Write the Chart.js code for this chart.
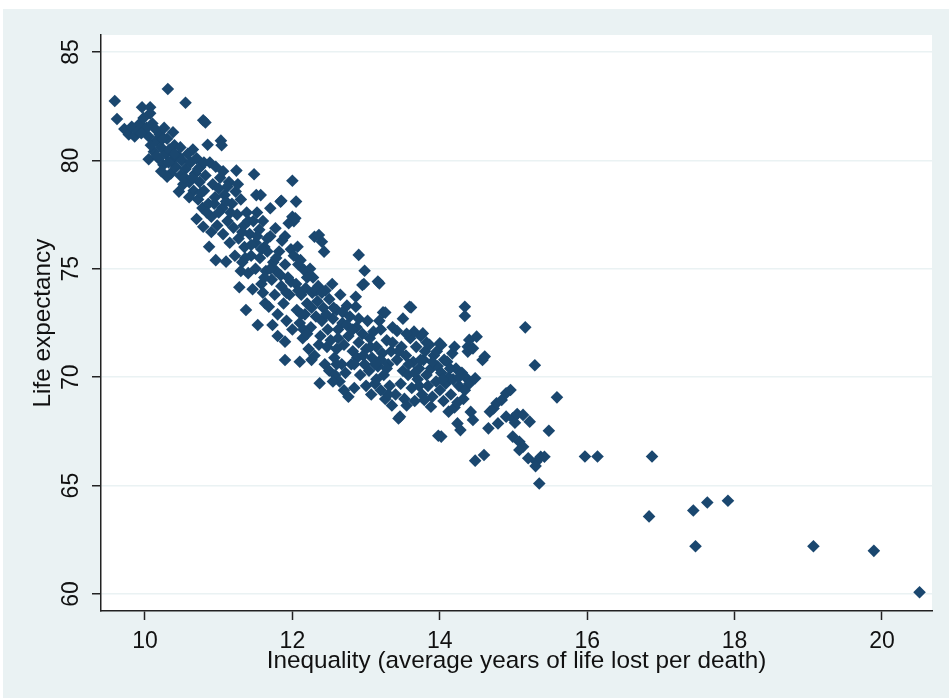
<!DOCTYPE html>
<html>
<head>
<meta charset="utf-8">
<script src="https://cdn.jsdelivr.net/npm/chart.js@4"></script>
<style>
  html, body { margin: 0; padding: 0; background: #fff; }
  #wrap { width: 949px; height: 698px; }
</style>
</head>
<body>
<div id="wrap"><canvas id="chart"></canvas></div>
<script>
// [inequality, life expectancy], grouped by x range
const band10 = [
  [9.59,82.74],[9.62,81.91],[9.72,81.45],[9.78,81.2],[9.82,81.55],[9.86,81.1],[9.9,81.35],[9.93,81.7],
  [9.96,82.45],[10.07,82.45],[10.07,82.17],[9.98,81.95],[10.02,81.5],[10.05,81.1],[9.95,81.25],[10.1,81.7],
  [10.05,80.05],[10.12,80.4],[10.15,80.9],[10.2,81.2],[10.22,80.6],[10.18,80.1],[10.25,79.8],[10.28,80.3],
  [10.31,83.29],[10.3,81.0],[10.33,80.5],[10.35,79.4],[10.36,80.0],[10.4,80.7],[10.42,79.7],[10.45,80.2],
  [10.3,79.25],[10.46,78.56],[10.48,79.3],[10.5,80.0],[10.38,81.3],[10.26,81.5],[10.14,81.45]
];
const band105 = [
  [10.55,82.66],[10.79,81.85],[10.82,81.75],[10.55,79.6],[10.58,80.3],[10.6,79.0],[10.62,79.9],[10.65,80.5],
  [10.66,78.6],[10.68,79.4],[10.7,80.1],[10.72,78.2],[10.74,79.0],[10.75,79.7],[10.78,77.8],[10.8,78.6],
  [10.82,79.3],[10.85,80.72],[10.86,78.0],[10.88,79.9],[10.9,77.4],[10.92,78.9],[10.95,78.3],[10.96,79.71],
  [10.98,77.0],[11.0,78.7],[10.79,76.94],[10.87,76.02],[10.6,78.3],[10.52,78.9],[10.7,77.3],[10.9,76.7]
];
const band11 = [
  [11.03,80.91],[11.04,80.7],[11.02,79.2],[11.05,77.8],[11.06,76.6],[11.08,78.4],[11.1,75.33],[10.96,75.4],
  [11.12,77.2],[11.14,79.0],[11.15,76.2],[11.18,78.0],[11.2,76.9],[11.22,75.6],[11.24,79.53],[11.23,78.56],
  [11.25,77.5],[11.27,76.4],[11.28,74.15],[11.3,78.2],[11.32,75.3],[11.34,77.0],[11.35,76.0],[11.37,73.1],
  [11.38,77.6],[11.4,74.8],[11.42,76.6],[11.44,75.6],[11.46,74.06],[11.48,79.36],[11.47,77.2],[11.5,76.2],
  [11.5,75.0],[11.12,78.8],[11.3,74.9]
];
const band115 = [
  [11.51,78.4],[11.57,78.4],[11.52,77.6],[11.53,72.41],[11.55,76.8],[11.56,75.5],[11.58,74.3],[11.6,77.2],
  [11.62,76.0],[11.63,73.41],[11.64,74.9],[11.66,75.8],[11.68,73.25],[11.7,77.79],[11.7,76.5],[11.72,74.5],
  [11.73,72.41],[11.74,75.3],[11.76,73.8],[11.77,76.87],[11.78,74.9],[11.8,72.9],[11.82,75.8],[11.84,78.1],
  [11.85,78.14],[11.85,74.2],[11.86,76.3],[11.88,73.4],[11.9,71.64],[11.9,70.79],[11.9,75.2],[11.92,72.6],
  [11.94,74.6],[11.95,77.1],[11.96,73.8],[11.98,75.9],[12.0,79.06],[12.0,77.4],[12.02,77.2],[12.0,72.2],
  [11.6,73.9],[11.8,71.9]
];
const band12 = [
  [12.04,77.33],[12.05,78.1],[12.07,76.02],[12.05,74.3],[12.06,73.1],[12.08,75.2],[12.1,70.71],[12.1,72.5],
  [12.11,75.4],[12.12,73.8],[12.14,71.8],[12.16,74.94],[12.17,72.9],[12.18,74.1],[12.2,73.4],[12.22,71.3],
  [12.24,75.0],[12.25,72.3],[12.27,73.9],[12.28,74.6],[12.3,76.48],[12.3,71.0],[12.32,72.8],[12.34,73.5],
  [12.35,74.2],[12.36,76.56],[12.37,69.72],[12.38,71.9],[12.4,76.25],[12.4,72.6],[12.42,73.2],[12.43,75.79],
  [12.44,70.6],[12.45,74.0],[12.47,71.4],[12.48,72.2],[12.5,73.6],[12.5,70.3],[12.15,72.2],[12.26,70.8]
];
const band125 = [
  [12.52,71.7],[12.54,74.3],[12.55,72.7],[12.57,70.9],[12.58,70.1],[12.6,73.1],[12.6,71.3],[12.62,72.2],
  [12.64,69.8],[12.65,73.8],[12.67,70.6],[12.68,72.5],[12.7,71.5],[12.72,70.2],[12.74,73.3],[12.76,69.1],
  [12.76,71.9],[12.78,72.8],[12.8,70.6],[12.82,71.2],[12.84,69.5],[12.86,73.71],[12.86,73.25],[12.87,72.3],
  [12.88,70.9],[12.9,75.64],[12.9,71.6],[12.92,70.1],[12.95,74.25],[12.95,72.0],[12.97,74.3],[12.98,74.91],
  [12.98,70.6],[13.0,71.3],[13.0,69.6],[12.55,69.8],[12.7,69.4]
];
const band13 = [
  [13.02,72.6],[13.04,70.3],[13.05,71.8],[13.07,69.2],[13.08,70.9],[13.1,72.1],[13.12,69.7],[13.14,71.4],
  [13.16,74.41],[13.18,74.33],[13.16,70.5],[13.18,72.6],[13.2,69.4],[13.22,71.1],[13.23,72.99],[13.24,70.1],
  [13.26,72.98],[13.26,69.0],[13.28,71.7],[13.3,70.6],[13.32,69.6],[13.34,71.2],[13.36,72.3],[13.4,69.2],
  [13.42,72.13],[13.42,70.8],[13.44,68.1],[13.46,68.18],[13.47,69.7],[13.48,71.4],[13.5,70.3],[13.5,72.7],
  [13.2,70.8],[13.35,68.7]
];
const band135 = [
  [13.52,69.0],[13.54,71.0],[13.55,68.7],[13.57,70.1],[13.59,73.25],[13.61,73.22],[13.6,71.8],[13.62,69.5],
  [13.64,70.7],[13.66,68.9],[13.68,71.4],[13.7,69.9],[13.72,70.4],[13.74,71.9],[13.77,72.02],[13.76,69.2],
  [13.78,70.8],[13.79,68.95],[13.8,71.2],[13.82,70.1],[13.84,69.6],[13.86,71.5],[13.88,68.64],[13.88,70.4],
  [13.9,69.1],[13.92,71.0],[13.95,69.8],[13.97,70.5],[13.98,67.3],[14.0,71.56],[14.0,69.4],[13.65,72.1],[13.55,72.0]
];
const band14 = [
  [14.02,71.49],[14.02,70.2],[14.02,67.26],[14.05,68.9],[14.06,70.8],[14.08,69.7],[14.1,70.71],[14.12,68.41],
  [14.12,70.0],[14.15,69.2],[14.17,71.1],[14.18,69.9],[14.2,68.6],[14.22,70.4],[14.24,68.83],[14.24,67.87],
  [14.26,69.6],[14.28,67.56],[14.3,70.2],[14.32,69.0],[14.34,73.25],[14.34,72.82],[14.35,70.0],[14.38,71.18],
  [14.38,71.41],[14.4,71.72],[14.4,69.7],[14.42,68.4],[14.45,71.33],[14.45,68.03],[14.48,69.95],[14.48,66.15],
  [14.5,71.87]
];
const band145 = [
  [14.58,70.79],[14.6,66.41],[14.61,70.95],[14.66,67.64],[14.68,68.41],[14.73,68.56],[14.77,68.8],[14.79,67.87],
  [14.84,68.95],[14.9,69.26],[14.9,68.18],[14.96,69.41],[14.99,68.1],[14.99,67.26],[15.08,67.02],[15.13,68.26],
  [15.13,66.79],[15.08,66.64],[15.16,72.3],[15.2,66.26],[15.22,67.95],[15.29,70.55],[15.31,66.1],[15.3,65.9],
  [15.35,65.1],[15.37,66.33],[15.42,66.33],[15.48,67.53],[15.59,69.07],[15.02,67.9],[15.05,68.3]
];
// points hidden inside the solid part of the cloud
const core = [
  [10.08,80.7],[10.16,80.2],[10.24,81.0],[10.32,79.9],[10.4,80.3],[10.48,80.6],[10.54,79.2],[10.22,79.5],
  [10.64,79.2],[10.72,79.6],[10.8,79.9],[10.76,78.5],[10.84,77.6],[10.94,78.0],[11.0,77.6],[11.06,79.5],
  [11.1,78.1],[11.16,77.6],[11.26,78.9],[11.32,76.7],[11.4,77.2],[11.44,76.1],[11.36,75.5],[11.52,76.5],
  [11.58,75.9],[11.66,76.4],[11.62,74.6],[11.7,75.0],[11.78,75.5],[11.84,74.7],[11.92,73.9],[11.98,74.4],
  [11.9,76.5],[12.02,75.6],[12.08,74.0],[12.12,72.9],[12.2,74.6],[12.26,73.2],[12.32,74.0],[12.4,73.9],
  [12.46,72.9],[12.36,71.5],[12.2,72.0],[12.56,73.2],[12.62,71.8],[12.68,73.0],[12.74,72.4],[12.82,72.2],
  [12.9,72.7],[12.84,70.6],[12.96,71.0],[12.6,70.6],[13.06,71.4],[13.12,70.6],[13.2,72.2],[13.28,70.4],
  [13.36,71.6],[13.44,71.2],[13.14,69.9],[13.3,69.2],[13.58,70.6],[13.66,70.2],[13.74,70.8],[13.82,71.6],
  [13.9,70.7],[13.96,71.2],[13.72,69.6],[14.04,69.9],[14.14,70.4],[14.26,70.0],[14.34,69.4],[14.2,71.4]
];
const tail = [
  [15.97,66.34],[16.14,66.34],[16.88,66.34],[16.84,63.58],[17.44,63.85],[17.63,64.22],[17.91,64.3],
  [17.47,62.2],[19.07,62.2],[19.89,61.99],[20.51,60.08]
];

const xTicks = [10, 12, 14, 16, 18, 20];
const yTicks = [60, 65, 70, 75, 80, 85];

const allPoints = [].concat(band10, band105, band11, band115, band12, band125,
  band13, band135, band14, band145, core, tail).map(p => ({ x: p[0], y: p[1] }));

const navy = '#1a476f';
const bluishGray = '#eaf2f3';
const textFont = { family: '"Liberation Sans", Arial, sans-serif', size: 23 };
const titleFont = { family: textFont.family, size: 24.3 };

// outer grey frame and white plot region like Stata's s2color scheme
const stataBackground = {
  id: 'stataBackground',
  beforeDraw(chart) {
    const { ctx, chartArea } = chart;
    ctx.save();
    ctx.fillStyle = bluishGray;
    ctx.fillRect(3, 9, chart.width - 3, chart.height - 9);
    ctx.fillStyle = '#fff';
    ctx.fillRect(chartArea.left, chartArea.top, chartArea.right - chartArea.left, chartArea.bottom - chartArea.top);
    ctx.restore();
  }
};

new Chart(document.getElementById('chart'), {
  type: 'scatter',
  data: {
    datasets: [{
      data: allPoints,
      pointStyle: 'rectRot',
      pointRadius: 6.3,
      pointHoverRadius: 6.3,
      backgroundColor: navy,
      borderWidth: 0
    }]
  },
  options: {
    responsive: true,
    maintainAspectRatio: false,
    animation: false,
    events: [],
    layout: { padding: { top: 35, right: 17, left: 0, bottom: 0 } },
    plugins: { legend: { display: false }, tooltip: { enabled: false } },
    scales: {
      x: {
        min: 9.403,
        max: 20.679,
        afterFit: s => { s.height = 87; },
        afterBuildTicks: s => { s.ticks = xTicks.map(v => ({ value: v })); },
        grid: { drawOnChartArea: false, tickLength: 9, tickColor: '#222', tickWidth: 1.5 },
        border: { color: '#222', width: 1.5 },
        ticks: { font: textFont, color: '#111', padding: 8, maxRotation: 0 },
        title: {
          display: true,
          text: 'Inequality (average years of life lost per death)',
          font: titleFont,
          color: '#111',
          padding: { top: 0, bottom: 22.6 }
        }
      },
      y: {
        min: 59.216,
        max: 85.784,
        afterFit: s => { s.width = 101; },
        afterBuildTicks: s => { s.ticks = yTicks.map(v => ({ value: v })); },
        grid: { color: bluishGray, lineWidth: 1.5, tickLength: 9, tickColor: '#222', tickWidth: 1.5 },
        border: { color: '#222', width: 1.5 },
        ticks: { font: textFont, color: '#111', padding: 8, minRotation: 90, maxRotation: 90, crossAlign: 'center' },
        title: {
          display: true,
          text: 'Life expectancy',
          font: titleFont,
          color: '#111',
          padding: { top: 28.6, bottom: 0 }
        }
      }
    }
  },
  plugins: [stataBackground]
});
</script>
</body>
</html>
